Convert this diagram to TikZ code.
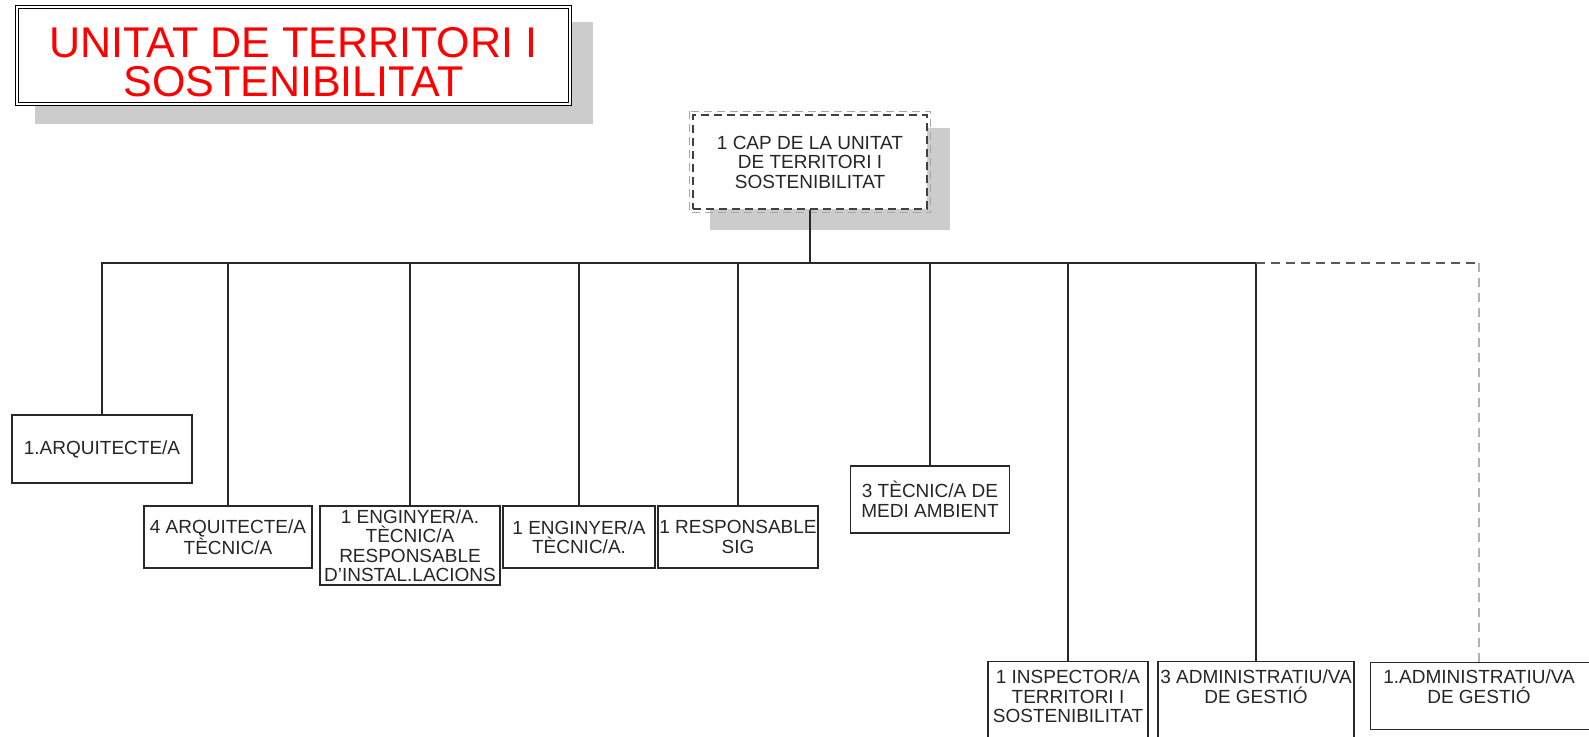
\documentclass[tikz,border=0pt]{standalone}
\usepackage{fontspec}
\setmainfont{Liberation Sans}
\definecolor{titlered}{RGB}{255,0,0}
\definecolor{linegray}{RGB}{40,40,40}
\definecolor{shadowgray}{RGB}{204,204,204}
\begin{document}
\begin{tikzpicture}[x=1pt,y=-1pt,
  unit/.style={draw=linegray, line width=1.3pt, fill=white, align=center, inner sep=0pt,
    font=\fontsize{19}{19.5}\selectfont, text=black!85},
  unittext/.style={align=center, inner sep=0pt, font=\fontsize{19}{19.5}\selectfont, text=black!85},
  link/.style={draw=linegray, line width=1.3pt},
  dlink/.style={draw=black!65, line width=1.4pt, dash pattern=on 9pt off 6pt},
  glink/.style={draw=black!30, line width=1.8pt, dash pattern=on 9pt off 6pt}]
\useasboundingbox (0,0) rectangle (1589,736);

% title
\fill[shadowgray] (35,22) rectangle (593,124);
\node[draw=black, line width=1pt, double=white, double distance=2pt, fill=white,
  minimum width=553pt, minimum height=97pt, inner sep=0pt] (title) at (293.5,55.5) {};
\node[align=center, inner sep=0pt, text=titlered, font=\fontsize{43}{39}\selectfont]
  (titletext) at (293.5,62) {UNITAT DE TERRITORI I\\SOSTENIBILITAT};

% head
\fill[shadowgray] (710,128) rectangle (950,230);
\node[unit, draw=black!75, dash pattern=on 8pt off 5pt, line width=1.5pt,
  minimum width=234pt, minimum height=94pt] (cap) at (810,162)
  {1 CAP DE LA UNITAT\\DE TERRITORI I\\SOSTENIBILITAT};
\draw[black!35, dash pattern=on 8pt off 5pt, line width=1.2pt]
  ([shift={(-3,-3)}]cap.north west) rectangle ([shift={(3,3)}]cap.south east);

% units
\node[unit, minimum width=180pt, minimum height=68pt] (b1) at (102,449) {1.ARQUITECTE/A};
\node[unit, minimum width=168pt, minimum height=62pt] (b2) at (228,537) {4 ARQUITECTE/A\\TÈCNIC/A};
\node[unit, minimum width=180pt, minimum height=79pt] (b3) at (410,545.5) {1 ENGINYER/A.\\TÈCNIC/A\\RESPONSABLE\\D'INSTAL.LACIONS};
\node[unit, minimum width=152pt, minimum height=62pt] (b4) at (579,537) {1 ENGINYER/A\\TÈCNIC/A.};
\node[unit, minimum width=160pt, minimum height=62pt] (b5) at (738,537) {1 RESPONSABLE\\SIG};
\node[unit, minimum width=159pt, minimum height=67pt] (b6) at (930,499.5) {3 TÈCNIC/A DE\\MEDI AMBIENT};

\node[unit, minimum width=160pt, minimum height=140pt, anchor=north] (b7) at (1068,661) {};
\node[unittext, anchor=north] (b7t) at (1068,670) {1 INSPECTOR/A\\TERRITORI I\\SOSTENIBILITAT};
\node[unit, minimum width=196pt, minimum height=140pt, anchor=north] (b8) at (1256,661) {};
\node[unittext, anchor=north] (b8t) at (1256,670) {3 ADMINISTRATIU/VA\\DE GESTIÓ};
\node[unit, minimum width=260pt, minimum height=67pt, anchor=north west] (b9) at (1370,662) {};
\node[unittext, anchor=north] (b9t) at (1479,670) {1.ADMINISTRATIU/VA\\DE GESTIÓ};

% connectors
\coordinate (bus) at (810,263);
\draw[link] (cap.south) -- (bus);
\draw[link] (b1.north) -- (b1.north |- bus) -- (b8.north |- bus) -- (b8.north);
\foreach \n in {b2,b3,b4,b5,b6,b7} \draw[link] (\n.north |- bus) -- (\n.north);
\draw[dlink] (b8.north |- bus) -- (b9t.north |- bus);
\draw[glink] (b9t.north |- bus) -- (b9t.north |- b9.north);
\end{tikzpicture}
\end{document}
